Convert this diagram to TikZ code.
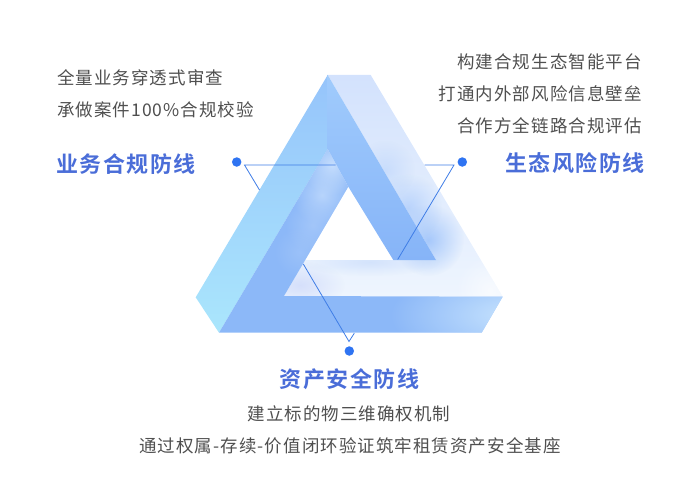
\documentclass[tikz,border=0pt]{standalone}
\usepackage{fontspec}
\usepackage[]{xcolor}
\usetikzlibrary{fadings}
\setmainfont{Noto Sans CJK SC}
\newfontfamily\bodyfont[LetterSpace=6]{Noto Sans CJK SC}
\newfontfamily\headfont[LetterSpace=7,BoldFont={Noto Sans CJK SC Bold}]{Noto Sans CJK SC}
\definecolor{bodygray}{HTML}{4F4F4F}
\definecolor{headblue}{HTML}{4A6DD8}
\definecolor{lineblue}{HTML}{3F7DE6}
\definecolor{dotblue}{HTML}{2F74F2}
\definecolor{cyanface}{HTML}{AAE6FC}
\definecolor{skyface}{HTML}{96C4FB}
\definecolor{paleface}{HTML}{D3E2FD}
\definecolor{palerface}{HTML}{EEF5FE}
\definecolor{midface}{HTML}{A0CBFC}
\definecolor{deepface}{HTML}{86B4F8}
\definecolor{baseface}{HTML}{8CB8F8}
\definecolor{glowblue}{HTML}{96BEFA}
\definecolor{glowlilac}{HTML}{AAB9F5}
\definecolor{glowpale}{HTML}{AAC8FA}
\definecolor{glowtip}{HTML}{C8E4FE}
\definecolor{glowridge}{HTML}{C6DEFD}
\definecolor{glowarm}{HTML}{B2D0FB}
\tikzfading[name=fuzzy, inner color=transparent!0, outer color=transparent!100]
\tikzset{
  bodytext/.style = {text = bodygray, font = \bodyfont\fontsize{17.5}{20}\selectfont, inner sep = 0pt},
  headtext/.style = {text = headblue, font = \headfont\bfseries\fontsize{22}{25}\selectfont, inner sep = 0pt},
  dotnode/.style = {circle, fill = dotblue, minimum size = 9.5pt, inner sep = 0pt},
  guideline/.style = {color = lineblue, line width = .8pt}
}
\begin{document}
\begin{tikzpicture}[x = 1pt, y = -1pt]
\useasboundingbox (0,0) rectangle (700,500);
% left face
\path [bottom color = cyanface, top color = skyface] (327.7,75) -- (327.7,149) -- (219,332.7) -- (195.7,297.3) -- cycle;
% right face
\begin{scope}
\clip (327.7,75) -- (370.7,75) -- (502.7,296.7) -- (284,296) -- (305,260) -- (436,260) -- cycle;
\path [top color = paleface, bottom color = palerface] (280,75) rectangle (505,297);
\fill [glowblue, opacity = .8, path fading = fuzzy] (428,240) circle (36);
\fill [glowblue, opacity = .55, path fading = fuzzy] (408,208) circle (34);
\fill [glowblue, opacity = .3, path fading = fuzzy] (385,170) circle (30);
\fill [white, opacity = .6, path fading = fuzzy] (490,290) circle (35);
\fill [glowlilac, opacity = .35, path fading = fuzzy] (300,285) ellipse (45 and 24);
\fill [glowpale, opacity = .35, path fading = fuzzy] (370,262) ellipse (70 and 14);
\end{scope}
% upper inner face
\path [top color = midface, bottom color = deepface] (327.7,75) -- (436,260) -- (393.3,260) -- (348.3,186.7) -- (327.7,149) -- cycle;
% lower inner face
\begin{scope}
\clip (327.7,149) -- (348.3,186.7) -- (284,296) -- (502.7,296.7) -- (481.7,332.7) -- (219,332.7) -- cycle;
\fill [baseface] (215,149) rectangle (505,335);
\fill [glowtip, path fading = fuzzy] (515,315) ellipse (125 and 50);
\fill [glowridge, path fading = fuzzy] (332,165) circle (30);
\fill [glowridge, opacity = .75, path fading = fuzzy] (322,195) circle (30);
\fill [glowarm, opacity = .6, path fading = fuzzy] (313,225) circle (28);
\fill [glowarm, opacity = .4, path fading = fuzzy] (300,252) circle (26);
\end{scope}
% guide lines
\coordinate (leftcorner) at (244.5,165);
\coordinate (rightcorner) at (454,165);
\coordinate (bottomcorner) at (349,341.5);
\coordinate (leftend) at (335.7,165);
\coordinate (leftfoot) at (259.5,190);
\coordinate (rightend) at (424.5,165);
\coordinate (rightfoot) at (397.7,259.5);
\coordinate (bottomend) at (303.3,264);
\coordinate (bottomfoot) at (354.3,333.2);
\draw [guideline] (leftend) -- (leftcorner) -- (leftfoot);
\draw [guideline] (rightend) -- (rightcorner) -- (rightfoot);
\draw [guideline] (bottomend) -- (bottomcorner) -- (bottomfoot);
\node [dotnode] (leftdot) at (236.7,162) {};
\node [dotnode] (rightdot) at (462.3,162) {};
\node [dotnode] (bottomdot) at (349.3,351) {};
% texts
\node [bodytext, anchor = west] (leftone) at (57,78) {全量业务穿透式审查};
\node [bodytext, anchor = west] (lefttwo) at (57,110) {承做案件100\%合规校验};
\node [headtext, anchor = west] (lefthead) at (56,164) {业务合规防线};
\node [bodytext, anchor = east] (rightone) at (642,62) {构建合规生态智能平台};
\node [bodytext, anchor = east] (righttwo) at (642,94) {打通内外部风险信息壁垒};
\node [bodytext, anchor = east] (rightthree) at (642,126) {合作方全链路合规评估};
\node [headtext, anchor = east] (righthead) at (645,163) {生态风险防线};
\node [headtext] (bottomhead) at (349.5,379) {资产安全防线};
\node [bodytext] (bottomone) at (349,414) {建立标的物三维确权机制};
\node [bodytext] (bottomtwo) at (350,446) {通过权属-存续-价值闭环验证筑牢租赁资产安全基座};
\end{tikzpicture}
\end{document}
